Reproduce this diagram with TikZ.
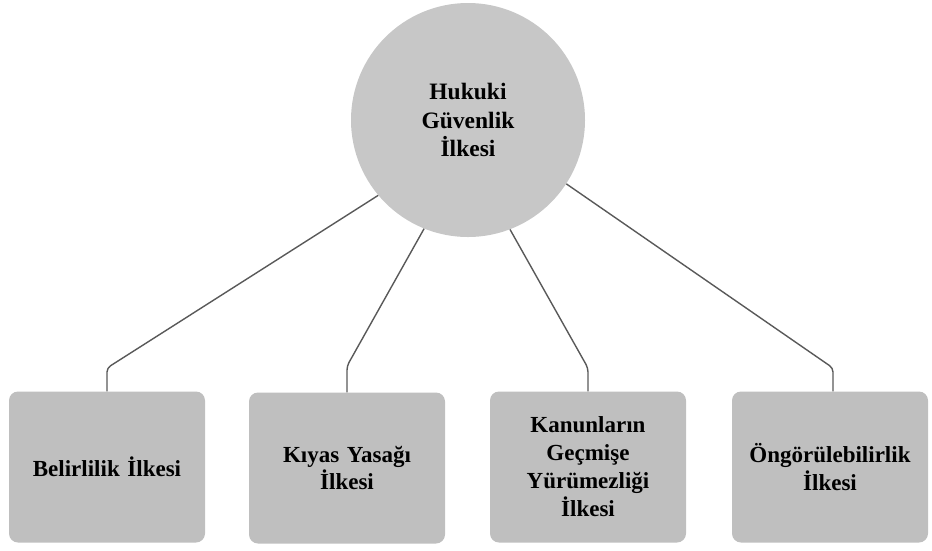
\documentclass[tikz,border=0pt]{standalone}
\usepackage{fontspec}
\setmainfont{Liberation Serif}
\begin{document}
\begin{tikzpicture}[x=1pt,y=-1pt,
  hub/.style={circle,fill=black!22,minimum size=234pt,inner sep=0pt,align=center,font=\bfseries\fontsize{23.5}{28.5}\selectfont},
  leaf/.style={rectangle,rounded corners=9pt,fill=black!25,minimum width=196pt,minimum height=151pt,inner sep=2pt,align=center,text width=190pt,font=\bfseries\fontsize{23}{28}\selectfont},
  link/.style={draw=black!65,line width=1.4pt,rounded corners=4pt}]
\useasboundingbox (0,0) rectangle (932,550);
\node[hub] (h) at (468,120) {Hukuki\\Güvenlik\\İlkesi};
\node[leaf] (b1) at (107,467) {Belirlilik İlkesi};
\node[leaf] (b2) at (347,468) {Kıyas Yasağı\\İlkesi};
\node[leaf] (b3) at (588,467) {Kanunların\\Geçmişe\\Yürümezliği\\İlkesi};
\node[leaf] (b4) at (830,467) {Öngörülebilirlik\\İlkesi};
\coordinate (k1) at (107,368);
\coordinate (k2) at (347,366);
\coordinate (k3) at (588,368);
\coordinate (k4) at (833,368);
\draw[link] (h.220) -- (k1) -- (b1.north);
\draw[link] (h.248) -- (k2) -- (b2.north);
\draw[link] (h.291) -- (k3) -- (b3.north);
\draw[link] (h.327) -- (k4) -- (b4.north -| k4);
\end{tikzpicture}
\end{document}
